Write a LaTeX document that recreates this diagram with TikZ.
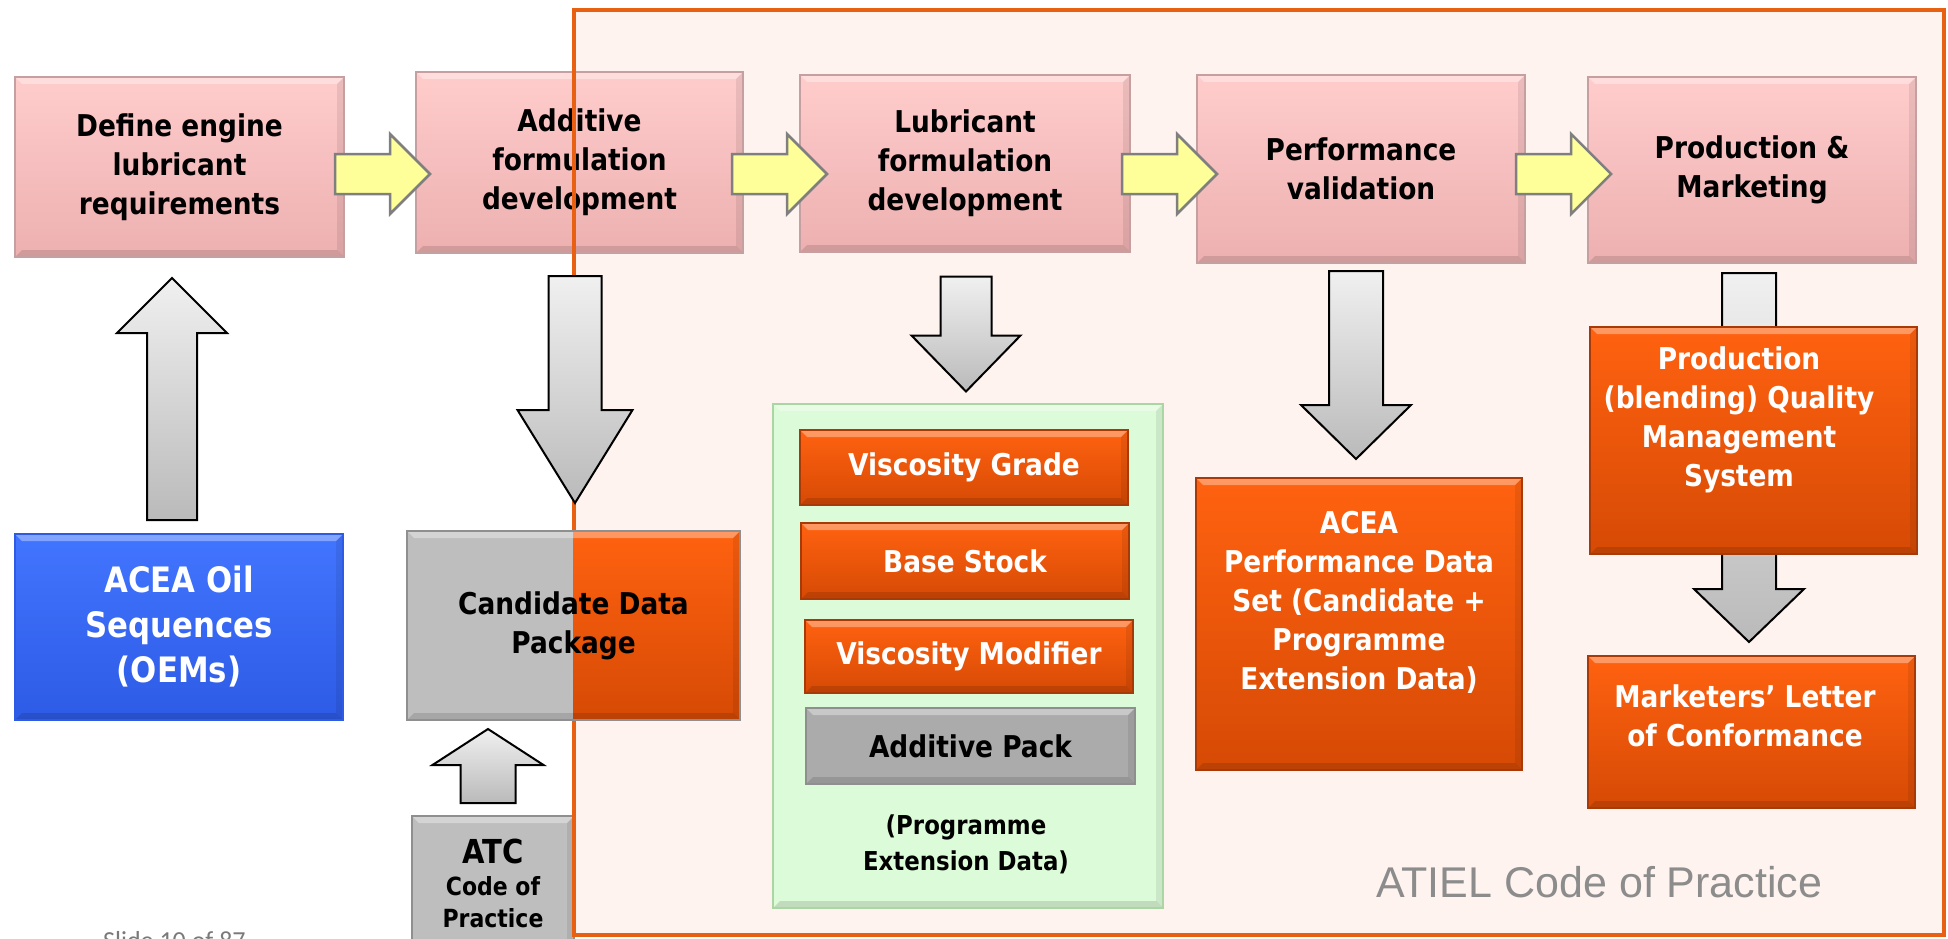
\documentclass[tikz,border=0pt]{standalone}
\usepackage{fontspec}
\setmainfont{DejaVu Sans}[FakeStretch=0.88]
\newfontfamily\atielfont{Liberation Sans}
\newfontfamily\slidefont{Carlito}
\usetikzlibrary{calc}

\definecolor{pinktop}{HTML}{FFCCCC}
\definecolor{pinkbot}{HTML}{EDB0B0}
\definecolor{pinkedge}{HTML}{C6A0A0}
\definecolor{orangetop}{HTML}{FF6210}
\definecolor{orangebot}{HTML}{D64A05}
\definecolor{orangeedge}{HTML}{A83A08}
\definecolor{bluetop}{HTML}{4275FF}
\definecolor{bluebot}{HTML}{2D5BE6}
\definecolor{greyfill}{HTML}{BEBEBE}
\definecolor{packfill}{HTML}{ABABAB}
\definecolor{greyedge}{HTML}{8F8F8F}
\definecolor{greenfill}{HTML}{DCFBD8}
\definecolor{greenedge}{HTML}{A9D6A2}
\definecolor{framefill}{HTML}{FEF3EE}
\definecolor{frameline}{HTML}{E86012}
\definecolor{yellowfill}{HTML}{FFFF99}
\definecolor{arrowedge}{HTML}{7F7F7F}
\definecolor{arrowtop}{HTML}{F0F0F0}
\definecolor{arrowbot}{HTML}{BABABA}
\definecolor{atielgrey}{HTML}{8C8C8C}
\definecolor{slidegrey}{HTML}{7A7A7A}

% bevelled edges of the boxes
\newcommand\bevelpic{%
  \fill[white,opacity=0.35] (path picture bounding box.north west) -- (path picture bounding box.north east)
    -- ++(-7,-7) -- ([shift={(7,-7)}]path picture bounding box.north west) -- cycle;
  \fill[black,opacity=0.12] (path picture bounding box.south west) -- (path picture bounding box.south east)
    -- ++(-7,7) -- ([shift={(7,7)}]path picture bounding box.south west) -- cycle;
  \fill[black,opacity=0.08] (path picture bounding box.south east) -- (path picture bounding box.north east)
    -- ++(-7,-7) -- ([shift={(-7,7)}]path picture bounding box.south east) -- cycle;}

% block arrows: style, tail, length, head length, shaft half width, head half width
\newcommand\rightblock[6]{%
  \draw[#1] #2 ++(0,#5) -- ++(#3-#4,0) -- ++(0,#6-#5) -- ++(#4,-#6) -- ++(-#4,-#6) -- ++(0,#6-#5) -- ++(#4-#3,0) -- cycle;}
\newcommand\downblock[6]{%
  \draw[#1] #2 ++(-#5,0) -- ++(0,#4-#3) -- ++(#5-#6,0) -- ++(#6,-#4) -- ++(#6,#4) -- ++(#5-#6,0) -- ++(0,#3-#4) -- cycle;}
\newcommand\upblock[6]{%
  \draw[#1] #2 ++(-#5,0) -- ++(0,#3-#4) -- ++(#5-#6,0) -- ++(#6,#4) -- ++(#6,-#4) -- ++(#5-#6,0) -- ++(0,#4-#3) -- cycle;}

\tikzset{
  box/.style={rectangle, inner sep=0pt, outer sep=0pt, align=center, line width=1.2pt},
  stage/.style={box, top color=pinktop, bottom color=pinkbot, draw=pinkedge,
    font=\bfseries\fontsize{30}{39}\selectfont, path picture={\bevelpic}},
  result/.style={box, top color=orangetop, bottom color=orangebot, draw=orangeedge,
    path picture={\bevelpic}},
  greybox/.style={box, fill=greyfill, draw=greyedge, path picture={\bevelpic}},
  whitetxt/.style={inner sep=0pt, align=center, text=white, font=\bfseries\fontsize{30}{39}\selectfont},
  blacktxt/.style={inner sep=0pt, align=center, font=\bfseries\fontsize{30}{39}\selectfont},
  frame/.style={rectangle, inner sep=0pt, outer sep=0pt, fill=framefill},
  yarrow/.style={fill=yellowfill, draw=arrowedge, line width=2.5pt},
  garrow/.style={top color=arrowtop, bottom color=arrowbot, draw=black, line width=2pt}
}

\begin{document}
\begin{tikzpicture}[x=1pt, y=1pt]
  \useasboundingbox (0,0) rectangle (1948,-939);
  \node[frame, minimum width=1370pt, minimum height=925pt] (cop) at (1259,-472.5) {};

  % process stages
  \node[stage, minimum width=329pt, minimum height=180pt] (def) at (179.5,-167) {Define engine\\lubricant\\requirements};
  \node[stage, minimum width=327pt, minimum height=181pt] (add) at (579.5,-162.5) {Additive\\formulation\\development};
  \node[stage, minimum width=330pt, minimum height=177pt] (lub) at (965,-163.5) {Lubricant\\formulation\\development};
  \node[stage, minimum width=328pt, minimum height=188pt] (perf) at (1361,-169) {Performance\\validation};
  \node[stage, minimum width=328pt, minimum height=186pt] (prod) at (1752,-170) {Production \&\\Marketing};

  \coordinate (flow) at (0,-174);
  \rightblock{yarrow}{($(def.east |- flow)+(-9,0)$)}{95}{40}{20}{40}
  \rightblock{yarrow}{($(add.east |- flow)+(-11,0)$)}{95}{40}{20}{40}
  \rightblock{yarrow}{($(lub.east |- flow)+(-8,0)$)}{95}{40}{20}{40}
  \rightblock{yarrow}{($(perf.east |- flow)+(-9,0)$)}{95}{40}{20}{40}

  % OEM sequences
  \node[box, top color=bluetop, bottom color=bluebot, draw=bluebot, path picture={\bevelpic},
    minimum width=328pt, minimum height=186pt, text=white, font=\bfseries\fontsize{35}{45}\selectfont]
    (oil) at (179,-627) {ACEA Oil\\Sequences\\(OEMs)};
  \upblock{garrow}{($(oil.north)+(-7,14)$)}{242}{55}{25}{55}

  % formulation elements
  \node[box, fill=greenfill, draw=greenedge, path picture={\bevelpic}, minimum width=390pt, minimum height=504pt] (pext) at (968,-656) {};
  \node[result, minimum width=328pt, minimum height=75pt, whitetxt] (vg) at (964,-467.5) {Viscosity Grade};
  \node[result, minimum width=328pt, minimum height=76pt, whitetxt] (bs) at (965,-561) {Base Stock};
  \node[result, minimum width=328pt, minimum height=73pt, whitetxt] (vm) at (969,-656.5) {Viscosity Modifier};
  \node[greybox, fill=packfill, minimum width=329pt, minimum height=76pt, blacktxt] (ap) at (970.5,-746) {Additive Pack};
  \node[blacktxt, font=\bfseries\fontsize{26}{36}\selectfont] (ptxt) at (966,-844) {(Programme\\Extension Data)};
  \downblock{garrow}{($(lub.south)+(1,-24.5)$)}{115}{56}{25.5}{54.5}

  % performance data
  \node[result, minimum width=326pt, minimum height=292pt] (pds) at (1359,-624) {};
  \node[whitetxt] (pdstxt) at ($(pds.center)+(0,22)$) {ACEA\\Performance Data\\Set (Candidate +\\Programme\\Extension Data)};
  \downblock{garrow}{($(perf.south)+(-5,-8)$)}{188}{54}{27}{55}

  % production and marketing
  \downblock{garrow}{($(prod.south)+(-3,-10)$)}{369}{53}{27}{55}
  \node[result, minimum width=327pt, minimum height=227pt] (pqms) at (1753.5,-440.5) {};
  \node[whitetxt] (pqmstxt) at ($(pqms.center)+(-14.5,20.5)$) {Production\\(blending) Quality\\Management\\System};
  \node[result, minimum width=327pt, minimum height=152pt] (mkt) at (1751.5,-732) {};
  \node[whitetxt] (mkttxt) at ($(mkt.center)+(-6.5,16.5)$) {Marketers’ Letter\\of Conformance};

  % ATC
  \node[greybox, minimum width=162pt, minimum height=134pt, blacktxt, font=\bfseries\fontsize{25}{32}\selectfont]
    (atc) at (493,-883) {{\fontsize{33}{36}\selectfont ATC}\\Code of\\Practice};

  \draw[frameline, line width=4.5pt] (cop.north west) rectangle (cop.south east);

  % candidate data
  \node[box, fill=greyfill, draw=greyedge, minimum width=333pt, minimum height=189pt, blacktxt,
    path picture={\fill[top color=orangetop, bottom color=orangebot] (path picture bounding box.north) rectangle (path picture bounding box.south east); \bevelpic}]
    (cand) at (573.5,-625.5) {Candidate Data\\Package};
  \downblock{garrow}{($(add.south)+(-4.5,-23)$)}{227}{93}{26.5}{57.5}
  \upblock{garrow}{($(atc.north)+(-5,13)$)}{74}{36}{27.5}{55.5}

  \node[anchor=base west, inner sep=0pt, text=atielgrey, font=\atielfont\fontsize{43}{48}\selectfont] (atiel) at (1376,-897) {ATIEL Code of Practice};
  \node[anchor=base west, inner sep=0pt, text=slidegrey, font=\slidefont\fontsize{26}{30}\selectfont] (slide) at (103,-949) {Slide 10 of 87};
\end{tikzpicture}
\end{document}
